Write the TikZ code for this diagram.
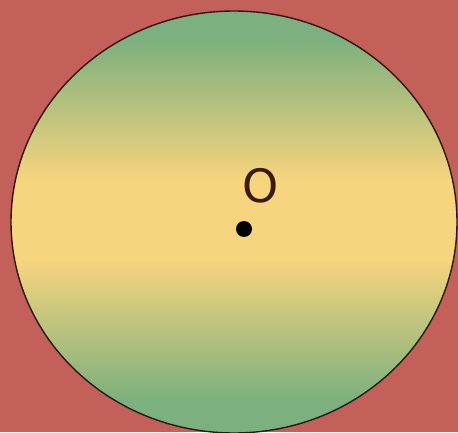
\documentclass[tikz,border=0pt]{standalone}
\usepackage{fontspec}
\setmainfont{DejaVu Sans}
\definecolor{bgred}{HTML}{C4605A}
\definecolor{egreen}{HTML}{7CB07E}
\definecolor{eyellow}{HTML}{F7D47E}
\definecolor{edge}{HTML}{2A1812}
\definecolor{labelc}{HTML}{3A1A10}
\pgfdeclareverticalshading{ellsh}{100bp}{color(0bp)=(egreen); color(28.9bp)=(egreen); color(45.5bp)=(eyellow); color(55bp)=(eyellow); color(71.6bp)=(egreen); color(100bp)=(egreen)}
\begin{document}
\begin{tikzpicture}[x=1pt,y=1pt,
  ellstyle/.style={draw=edge, line width=1.4pt, shading=ellsh},
  dotstyle/.style={circle, fill=black, inner sep=0pt, minimum size=16pt},
  lbl/.style={text=labelc, font=\fontsize{46}{46}\selectfont, inner sep=0pt}]
\fill[bgred] (0,0) rectangle (458,432);
\useasboundingbox (0,0) rectangle (458,432);
\begin{scope}
\clip (0,0) rectangle (458,432);
\path[ellstyle] (234,210) ellipse [x radius=223, y radius=211];
\end{scope}
\node[dotstyle] (o) at (244,203) {};
\node[lbl] (lo) at (260.5,246) {O};
\end{tikzpicture}
\end{document}
